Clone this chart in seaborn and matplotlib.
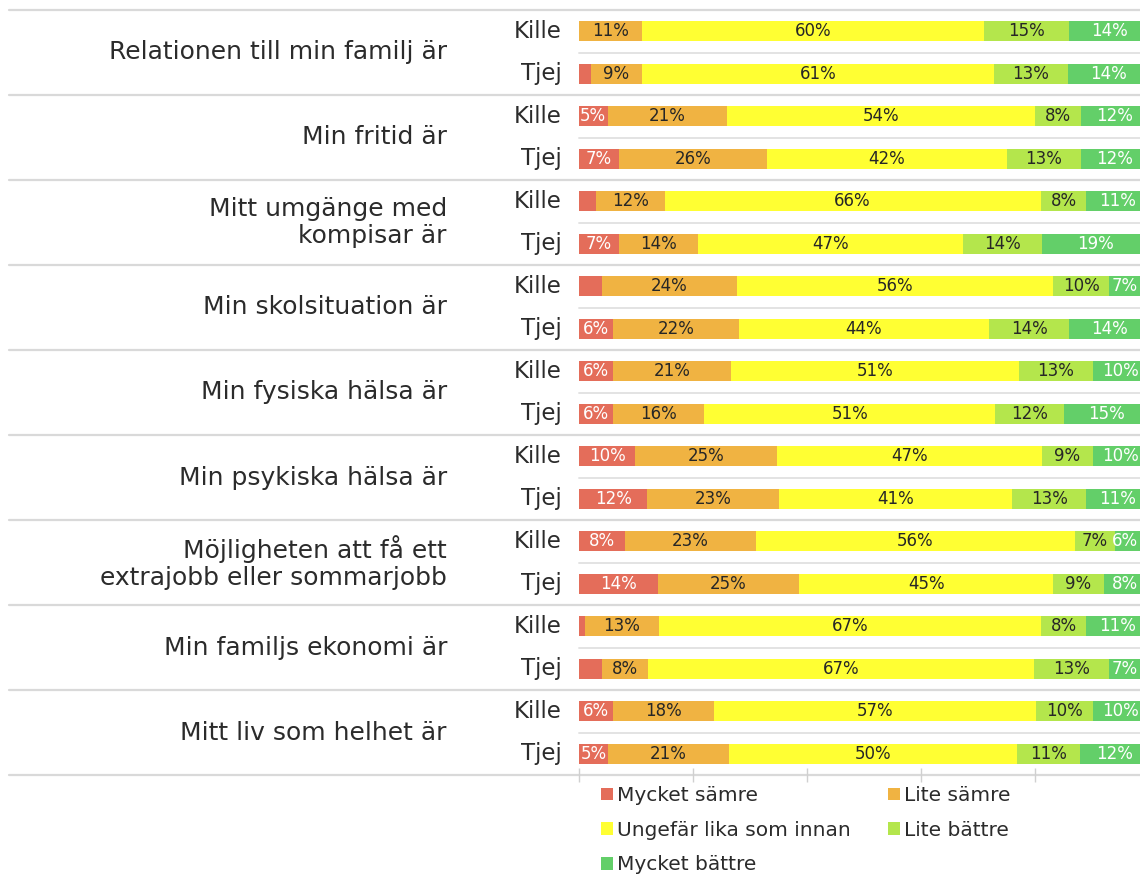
import matplotlib
matplotlib.use("Agg")
import matplotlib.pyplot as plt
import matplotlib.transforms as mtransforms
from matplotlib.patches import Patch
import numpy as np
import seaborn as sns

# --- data -------------------------------------------------------------
categories = [
    "Relationen till min familj är",
    "Min fritid är",
    "Mitt umgänge med\nkompisar är",
    "Min skolsituation är",
    "Min fysiska hälsa är",
    "Min psykiska hälsa är",
    "Möjligheten att få ett\nextrajobb eller sommarjobb",
    "Min familjs ekonomi är",
    "Mitt liv som helhet är",
]
genders = ["Kille", "Tjej"]

series_names = ["Mycket sämre", "Lite sämre", "Ungefär lika som innan",
                "Lite bättre", "Mycket bättre"]

# one value per bar, ordered category by category (Kille, Tjej)
mycket_samre = [0, 2, 5, 7, 3, 7, 4, 6, 6, 6, 10, 12, 8, 14, 1, 4, 6, 5]
lite_samre = [11, 9, 21, 26, 12, 14, 24, 22, 21, 16, 25, 23, 23, 25, 13, 8, 18, 21]
ungefar_lika = [60, 61, 54, 42, 66, 47, 56, 44, 51, 51, 47, 41, 56, 45, 67, 67, 57, 50]
lite_battre = [15, 13, 8, 13, 8, 14, 10, 14, 13, 12, 9, 13, 7, 9, 8, 13, 10, 11]
mycket_battre = [14, 14, 12, 12, 11, 19, 7, 14, 10, 15, 10, 11, 6, 8, 11, 7, 10, 12]

colors = ["#E46D5A", "#F0B342", "#FFFF33", "#B4E64C", "#63CF69"]
label_colors = ["white", "#262626", "#262626", "#262626", "white"]

# --- figure -------------------------------------------------------------
sns.set_theme(style="white")
plt.rcParams["font.family"] = ["DejaVu Sans"]

W, H = 1140, 874
fig = plt.figure(figsize=(W / 100, H / 100), dpi=100)
ax = fig.add_axes([579 / W, 1 - 775 / H, 570 / W, 765 / H])

values = np.array([mycket_samre, lite_samre, ungefar_lika,
                   lite_battre, mycket_battre], dtype=float).T
shares = values / values.sum(axis=1, keepdims=True)
cum = np.cumsum(shares, axis=1)
starts = cum - shares

row_ids = [f"{c} | {g}" for c in categories for g in genders]

# stacked bars: draw cumulative totals from the widest down
for k in range(len(series_names) - 1, -1, -1):
    sns.barplot(x=cum[:, k], y=row_ids, order=row_ids, color=colors[k],
                saturation=1, width=0.46, orient="h", errorbar=None,
                linewidth=0, ax=ax)

# percentage labels inside segments (kept inside the visible strip)
max_center = 0.957
for i in range(len(row_ids)):
    for k in range(len(series_names)):
        v = values[i, k]
        if v >= 5:
            xc = min(starts[i, k] + shares[i, k] / 2, max_center)
            ax.text(xc, i, f"{int(v)}%", ha="center", va="center",
                    fontsize=12, color=label_colors[k])

n = len(row_ids)
ax.set_xlim(0, 1)
ax.set_ylim(n - 0.5, -0.5)
ax.set_yticks([])
ax.set_ylabel("")
ax.set_xlabel("")
ax.set_xticks([0, 0.2, 0.4, 0.6, 0.8, 1.0])
ax.set_xticklabels([])
ax.tick_params(axis="x", bottom=True, length=10, direction="inout",
               color="#D0D0D0", width=1)
for s in ax.spines.values():
    s.set_visible(False)

# separator lines: across the whole width between groups, plot-only inside
for j in range(len(categories) + 1):
    ax.axhline(2 * j - 0.5, xmin=-1.0, xmax=1.0, color="#D9D9D9",
               lw=1.6, clip_on=False, zorder=0)
for j in range(len(categories)):
    ax.axhline(2 * j + 0.5, xmin=0, xmax=1.0, color="#E3E3E3",
               lw=1.4, clip_on=False, zorder=0)

# category and gender labels
trans = mtransforms.blended_transform_factory(fig.transFigure, ax.transData)
for j, cat in enumerate(categories):
    ax.text(447 / W, 2 * j + 0.5, cat, transform=trans, ha="right",
            va="center", multialignment="right", fontsize=18,
            color="#2B2B2B", linespacing=1.2)
    for g, gname in enumerate(genders):
        ax.text(562 / W, 2 * j + g, gname, transform=trans, ha="right",
                va="center", fontsize=16.5, color="#2B2B2B")

# legend, laid out row by row in two columns
handles = [Patch(facecolor=c, edgecolor="none") for c in colors]
order = [0, 2, 4, 1, 3]
fig.legend([handles[i] for i in order], [series_names[i] for i in order],
           ncol=2, loc="upper left", bbox_to_anchor=(601 / W, 1 - 786 / H),
           frameon=False, fontsize=14.5, handlelength=0.6, handleheight=0.6,
           handletextpad=0.2, labelspacing=0.78, columnspacing=1.85,
           borderpad=0, borderaxespad=0, labelcolor="#2B2B2B")

fig.savefig("out.png", dpi=100)
